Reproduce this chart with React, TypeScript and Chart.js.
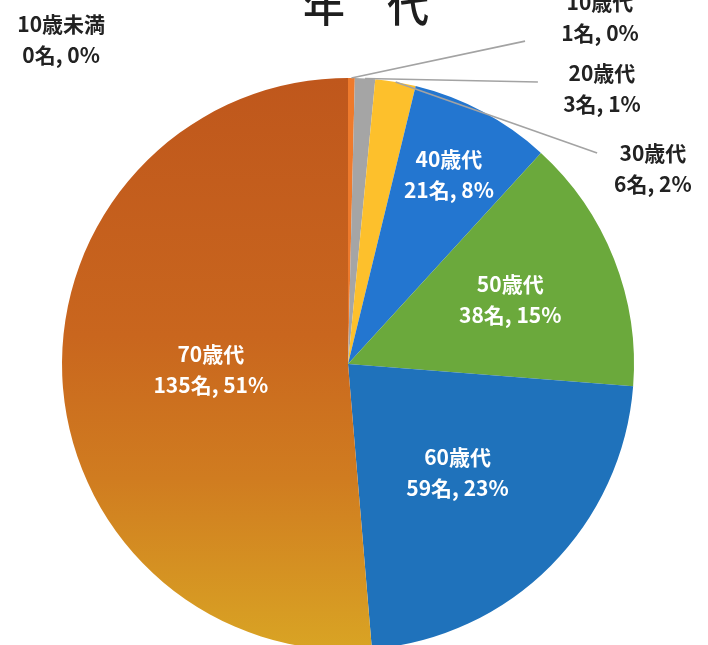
import React, { useEffect, useRef } from "react";
import { Chart, registerables } from "chart.js";

Chart.register(...registerables);

// ---- data ----
const CATEGORIES = ["10歳未満", "10歳代", "20歳代", "30歳代", "40歳代", "50歳代", "60歳代", "70歳代"];
const COUNTS = [0, 1, 3, 6, 21, 38, 59, 135];
const PERCENTS = [0, 0, 1, 2, 8, 15, 23, 51];
const TITLE = "年　代";

// ---- styles ----
const COLORS = ["#4472C4", "#EE7A2C", "#A5A5A5", "#FDC02C", "#2376D0", "#6BA93C", "#1F72BB", "#C65E1D"];
const GRADIENT_70 = [
  [0, "#BF571C"],
  [0.45, "#C9661E"],
  [0.7, "#D07C20"],
  [1, "#D9A424"],
];

// label layout (inside: radius factor at slice middle; outside: offsets from centre in radius units)
type LabelCfg =
  | { inside: true; r: number }
  | { inside: false; dx: number; dy: number; line?: { dx: number; dy: number } };

const LABELS: LabelCfg[] = [
  { inside: false, dx: -1.003, dy: -1.133 },
  { inside: false, dx: 0.881, dy: -1.21, line: { dx: 0.619, dy: -1.129 } },
  { inside: false, dx: 0.888, dy: -0.962, line: { dx: 0.664, dy: -0.986 } },
  { inside: false, dx: 1.066, dy: -0.682, line: { dx: 0.871, dy: -0.738 } },
  { inside: true, r: 0.75 },
  { inside: true, r: 0.61 },
  { inside: true, r: 0.54 },
  { inside: true, r: 0.48 },
];

const FONT = "'Noto Sans CJK JP', 'Noto Sans', sans-serif";
const LABEL_SIZE = 21;
const LINE_GAP = 31;

const labelPlugin = {
  id: "pieLabels",
  afterDatasetsDraw(chart: any) {
    const ctx: CanvasRenderingContext2D = chart.ctx;
    const meta = chart.getDatasetMeta(0);
    ctx.save();
    meta.data.forEach((arc: any, i: number) => {
      const { x, y, startAngle, endAngle, outerRadius } = arc.getProps(
        ["x", "y", "startAngle", "endAngle", "outerRadius"],
        true
      );
      const mid = (startAngle + endAngle) / 2;
      const cfg = LABELS[i];
      let lx: number, ly: number;
      let color = "#222222";
      if (cfg.inside) {
        lx = x + Math.cos(mid) * outerRadius * cfg.r;
        ly = y + Math.sin(mid) * outerRadius * cfg.r;
        color = "#FFFFFF";
      } else {
        lx = x + cfg.dx * outerRadius;
        ly = y + cfg.dy * outerRadius;
        if (cfg.line) {
          const sx = x + Math.cos(mid) * outerRadius;
          const sy = y + Math.sin(mid) * outerRadius;
          ctx.beginPath();
          ctx.strokeStyle = "#A3A3A3";
          ctx.lineWidth = 1.6;
          ctx.moveTo(sx, sy);
          ctx.lineTo(x + cfg.line.dx * outerRadius, y + cfg.line.dy * outerRadius);
          ctx.stroke();
        }
      }
      ctx.fillStyle = color;
      ctx.font = `bold ${LABEL_SIZE}px ${FONT}`;
      ctx.textAlign = "center";
      ctx.textBaseline = "middle";
      ctx.fillText(CATEGORIES[i], lx, ly - LINE_GAP / 2);
      ctx.fillText(`${COUNTS[i]}名, ${PERCENTS[i]}%`, lx, ly + LINE_GAP / 2);
    });
    ctx.restore();
  },
  afterDraw(chart: any) {
    const ctx: CanvasRenderingContext2D = chart.ctx;
    ctx.save();
    ctx.fillStyle = "#1E1E1E";
    ctx.font = `500 42px ${FONT}`;
    ctx.textAlign = "center";
    ctx.textBaseline = "alphabetic";
    ctx.fillText(TITLE, chart.width / 2 + 12, 22);
    ctx.restore();
  },
};

export default function App() {
  const ref = useRef<HTMLCanvasElement | null>(null);

  useEffect(() => {
    if (!ref.current) return;
    const chart = new Chart(ref.current, {
      type: "pie",
      data: {
        labels: CATEGORIES,
        datasets: [
          {
            data: COUNTS,
            borderWidth: 0,
            backgroundColor: (c: any) => {
              const i = c.dataIndex;
              if (i !== COLORS.length - 1) return COLORS[i];
              const area = c.chart.chartArea;
              if (!area) return COLORS[i];
              const g = c.chart.ctx.createLinearGradient(0, area.top, 0, area.bottom);
              GRADIENT_70.forEach(([s, col]) => g.addColorStop(s as number, col as string));
              return g;
            },
          },
        ],
      },
      options: {
        responsive: false,
        animation: false,
        layout: { padding: { left: 62, top: 78, right: 74, bottom: 50 } },
        plugins: {
          legend: { display: false },
          tooltip: { enabled: false },
          title: { display: false },
        },
      },
      plugins: [labelPlugin],
    });
    return () => chart.destroy();
  }, []);

  return (
    <div
      style={{
        position: "absolute",
        left: 0,
        top: 0,
        width: 708,
        height: 645,
        overflow: "hidden",
        background: "#FFFFFF",
      }}
    >
      <canvas ref={ref} width={708} height={700} style={{ display: "block" }} />
    </div>
  );
}
